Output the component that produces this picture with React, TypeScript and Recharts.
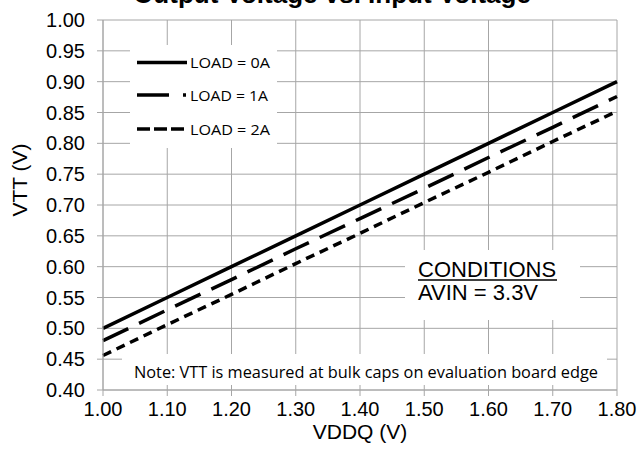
import React from 'react';
import { LineChart, Line, XAxis, YAxis, CartesianGrid } from 'recharts';

const vddq = [1.0, 1.1, 1.2, 1.3, 1.4, 1.5, 1.6, 1.7, 1.8];
const load0A = [0.5, 0.55, 0.6, 0.65, 0.7, 0.75, 0.8, 0.85, 0.9];
const load1A = [0.48, 0.53, 0.579, 0.629, 0.678, 0.727, 0.777, 0.826, 0.876];
const load2A = [0.456, 0.506, 0.555, 0.605, 0.654, 0.704, 0.753, 0.803, 0.852];

const xTicks = [1.0, 1.1, 1.2, 1.3, 1.4, 1.5, 1.6, 1.7, 1.8];
const yTicks = [0.4, 0.45, 0.5, 0.55, 0.6, 0.65, 0.7, 0.75, 0.8, 0.85, 0.9, 0.95, 1.0];

const data = vddq.map((v, i) => ({
  vddq: v,
  a0: load0A[i],
  a1: load1A[i],
  a2: load2A[i],
}));

const GRID = '#a6a6a6';
const ARIAL = 'Liberation Sans, Arial, sans-serif';
const CAL = 'Open Sans, sans-serif';

export default function App() {
  return (
    <div style={{ position: 'relative', width: 639, height: 460, background: '#fff' }}>
      <style>{'body{margin:0}'}</style>
      <LineChart
        width={639}
        height={460}
        data={data}
        margin={{ top: 20, right: 22, bottom: 30, left: 0 }}
      >
        <CartesianGrid stroke={GRID} strokeWidth={1} />
        <XAxis
          dataKey="vddq"
          type="number"
          domain={[1, 1.8]}
          ticks={xTicks}
          tickFormatter={(v: number) => v.toFixed(2)}
          height={40}
          tickSize={6}
          tickMargin={6}
          stroke={GRID}
          tick={{ fill: '#000', fontSize: 20, fontFamily: ARIAL }}
          interval={0}
        />
        <YAxis
          type="number"
          domain={[0.4, 1.0]}
          ticks={yTicks}
          tickFormatter={(v: number) => v.toFixed(2)}
          width={103}
          tickSize={6}
          tickMargin={12}
          stroke={GRID}
          tick={{ fill: '#000', fontSize: 20, fontFamily: ARIAL }}
          interval={0}
        />
        <Line dataKey="a0" stroke="#000" strokeWidth={3.5} dot={false} isAnimationActive={false} />
        <Line
          dataKey="a1"
          stroke="#000"
          strokeWidth={3.5}
          strokeDasharray="28 12"
          dot={false}
          isAnimationActive={false}
        />
        <Line
          dataKey="a2"
          stroke="#000"
          strokeWidth={3.5}
          strokeDasharray="9 6"
          dot={false}
          isAnimationActive={false}
        />
      </LineChart>

      <svg
        width={639}
        height={460}
        style={{ position: 'absolute', left: 0, top: 0, pointerEvents: 'none' }}
      >
        {/* title, clipped by the top edge */}
        <text x={332} y={3} textAnchor="middle" fontSize={26} fontWeight="bold" fontFamily={ARIAL}>
          Output Voltage vs. Input Voltage
        </text>

        {/* legend box */}
        <rect x={130} y={45} width={147} height={103} fill="#fff" />
        <line x1={137} y1={62.5} x2={187} y2={62.5} stroke="#000" strokeWidth={3.5} />
        <line x1={137} y1={95} x2={169} y2={95} stroke="#000" strokeWidth={3.5} />
        <line x1={183} y1={95} x2={186} y2={95} stroke="#000" strokeWidth={3.5} />
        <line x1={137} y1={129} x2={186} y2={129} stroke="#000" strokeWidth={3.5} strokeDasharray="13 4" />
        <text x={190} y={68} fontSize={15} fontFamily={CAL} textLength={80} lengthAdjust="spacingAndGlyphs">
          LOAD = 0A
        </text>
        <text x={190} y={101} fontSize={15} fontFamily={CAL} textLength={78} lengthAdjust="spacingAndGlyphs">
          LOAD = 1A
        </text>
        <text x={190} y={135} fontSize={15} fontFamily={CAL} textLength={80} lengthAdjust="spacingAndGlyphs">
          LOAD = 2A
        </text>

        {/* conditions box */}
        <rect x={405} y={250} width={175} height={70} fill="#fff" />
        <text x={418} y={277} fontSize={22} fontFamily={ARIAL}>
          CONDITIONS
        </text>
        <line x1={418} y1={280} x2={557} y2={280} stroke="#000" strokeWidth={1.5} />
        <text x={418} y={300} fontSize={22} fontFamily={ARIAL}>
          AVIN = 3.3V
        </text>

        {/* note box */}
        <rect x={122} y={354} width={485} height={31} fill="#fff" />
        <text x={134} y={378} fontSize={16} fontFamily={CAL} textLength={464} lengthAdjust="spacingAndGlyphs">
          Note: VTT is measured at bulk caps on evaluation board edge
        </text>

        {/* axis titles */}
        <text x={360} y={439} textAnchor="middle" fontSize={21} fontFamily={ARIAL}>
          VDDQ (V)
        </text>
        <text
          x={0}
          y={0}
          transform="translate(27 180) rotate(-90)"
          textAnchor="middle"
          fontSize={21}
          fontFamily={ARIAL}
        >
          VTT (V)
        </text>
      </svg>
    </div>
  );
}
